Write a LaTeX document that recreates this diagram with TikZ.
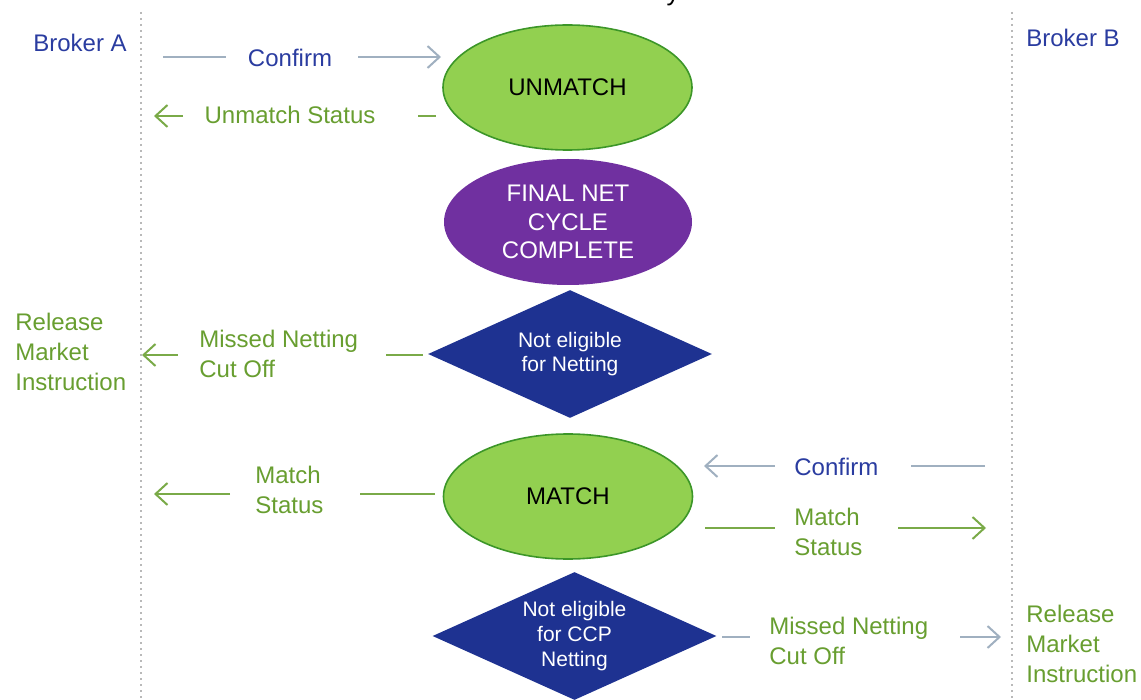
\documentclass[tikz,border=0pt]{standalone}
\usepackage{fontspec}
\setmainfont{Liberation Sans}
\usetikzlibrary{shapes.geometric,arrows.meta}
\definecolor{txtblue}{RGB}{42,60,160}
\definecolor{txtgreen}{RGB}{104,158,48}
\definecolor{lngray}{RGB}{160,176,192}
\definecolor{lngreen}{RGB}{122,170,72}
\definecolor{elfill}{RGB}{146,208,80}
\definecolor{eldraw}{RGB}{60,150,40}
\definecolor{purp}{RGB}{112,48,160}
\definecolor{navy}{RGB}{30,50,145}
\definecolor{lanegray}{RGB}{185,185,185}
\tikzset{
  lane/.style={draw=lanegray, line width=1pt, dotted},
  bluetxt/.style={text=txtblue, font=\fontsize{12}{15}\selectfont, inner sep=0pt},
  greentxt/.style={text=txtgreen, font=\fontsize{12}{15}\selectfont, inner sep=0pt, align=left},
  grayline/.style={draw=lngray, line width=1pt},
  greenline/.style={draw=lngreen, line width=1pt},
  tip/.style={-{Straight Barb[length=6pt,width=11pt,line width=1pt]}},
  greenell/.style={ellipse, fill=elfill, draw=eldraw, line width=0.8pt, minimum width=124.5pt, minimum height=62.5pt, inner sep=0pt, font=\fontsize{12}{14.5}\selectfont, text=black},
  purpell/.style={ellipse, fill=purp, minimum width=124pt, minimum height=63pt, inner sep=0pt, font=\fontsize{12}{14.3}\selectfont, text=white, align=center},
  navydia/.style={diamond, aspect=2.2, fill=navy, minimum width=142pt, minimum height=64pt, inner sep=0pt, font=\fontsize{10.5}{12.3}\selectfont, text=white, align=center}
}
\begin{document}
\begin{tikzpicture}[x=0.5pt,y=-0.5pt]
\useasboundingbox (0,0) rectangle (1141,700);
% cut-off title glyph
\node[anchor=base, inner sep=0pt, font=\fontsize{13}{15}\selectfont] (ttl) at (673,1) {y};
% lanes
\coordinate (laneAtop) at (141,12); \coordinate (laneAbot) at (141,700);
\coordinate (laneBtop) at (1012,12); \coordinate (laneBbot) at (1012,700);
\draw[lane] (laneAtop) -- (laneAbot);
\draw[lane] (laneBtop) -- (laneBbot);
% brokers
\node[bluetxt] (brokerA) at (80,43) {Broker A};
\node[bluetxt] (brokerB) at (1073,38) {Broker B};
% shapes
\node[greenell] (unmatch) at (567.5,87.5) {UNMATCH};
\node[purpell] (finalnet) at (568,222) {FINAL NET\\CYCLE\\COMPLETE};
\node[navydia] (notnet) at (570,354) {Not eligible\\for Netting};
\node[greenell] (match) at (568,496.5) {MATCH};
\node[navydia] (notccp) at (574.5,636) {Not eligible\\for CCP\\Netting};
% release texts
\node[greentxt, anchor=west] (relA) at (15,352) {Release\\Market\\Instruction};
\node[greentxt, anchor=west] (relB) at (1026,644) {Release\\Market\\Instruction};
% labels
\node[bluetxt] (lblConfA) at (290,58) {Confirm};
\node[greentxt] (lblUnm) at (290,115) {Unmatch Status};
\node[greentxt, anchor=west] (lblMissA) at (199,354) {Missed Netting\\Cut Off};
\node[greentxt, anchor=west] (lblMatchA) at (255,490) {Match\\Status};
\node[bluetxt, anchor=west] (lblConfB) at (794,467) {Confirm};
\node[greentxt, anchor=west] (lblMatchB) at (794,532) {Match\\Status};
\node[greentxt, anchor=west] (lblMissB) at (769,641) {Missed Netting\\Cut Off};
% connector end points
\coordinate (c1a) at (163,57);  \coordinate (c1b) at (226,57);
\coordinate (c1c) at (358,57);  \coordinate (c1d) at (441,57);
\coordinate (c2a) at (436,116); \coordinate (c2b) at (418,116);
\coordinate (c2c) at (183,116); \coordinate (c2d) at (154,116);
\coordinate (c3a) at (423,355); \coordinate (c3b) at (386,355);
\coordinate (c3c) at (178,355); \coordinate (c3d) at (142,355);
\coordinate (c4a) at (435,494); \coordinate (c4b) at (360,494);
\coordinate (c4c) at (230,494); \coordinate (c4d) at (154,494);
\coordinate (c5a) at (985,466); \coordinate (c5b) at (911,466);
\coordinate (c5c) at (775,466); \coordinate (c5d) at (704,466);
\coordinate (c6a) at (705,528); \coordinate (c6b) at (775,528);
\coordinate (c6c) at (898,528); \coordinate (c6d) at (986,528);
\coordinate (c7a) at (722,637); \coordinate (c7b) at (750,637);
\coordinate (c7c) at (960,637); \coordinate (c7d) at (1001,637);
% connectors
\draw[grayline] (c1a) -- (c1b);
\draw[grayline, tip] (c1c) -- (c1d);
\draw[greenline] (c2a) -- (c2b);
\draw[greenline, tip] (c2c) -- (c2d);
\draw[greenline] (c3a) -- (c3b);
\draw[greenline, tip] (c3c) -- (c3d);
\draw[greenline] (c4a) -- (c4b);
\draw[greenline, tip] (c4c) -- (c4d);
\draw[grayline] (c5a) -- (c5b);
\draw[grayline, tip] (c5c) -- (c5d);
\draw[greenline] (c6a) -- (c6b);
\draw[greenline, tip] (c6c) -- (c6d);
\draw[grayline] (c7a) -- (c7b);
\draw[grayline, tip] (c7c) -- (c7d);
\end{tikzpicture}
\end{document}
